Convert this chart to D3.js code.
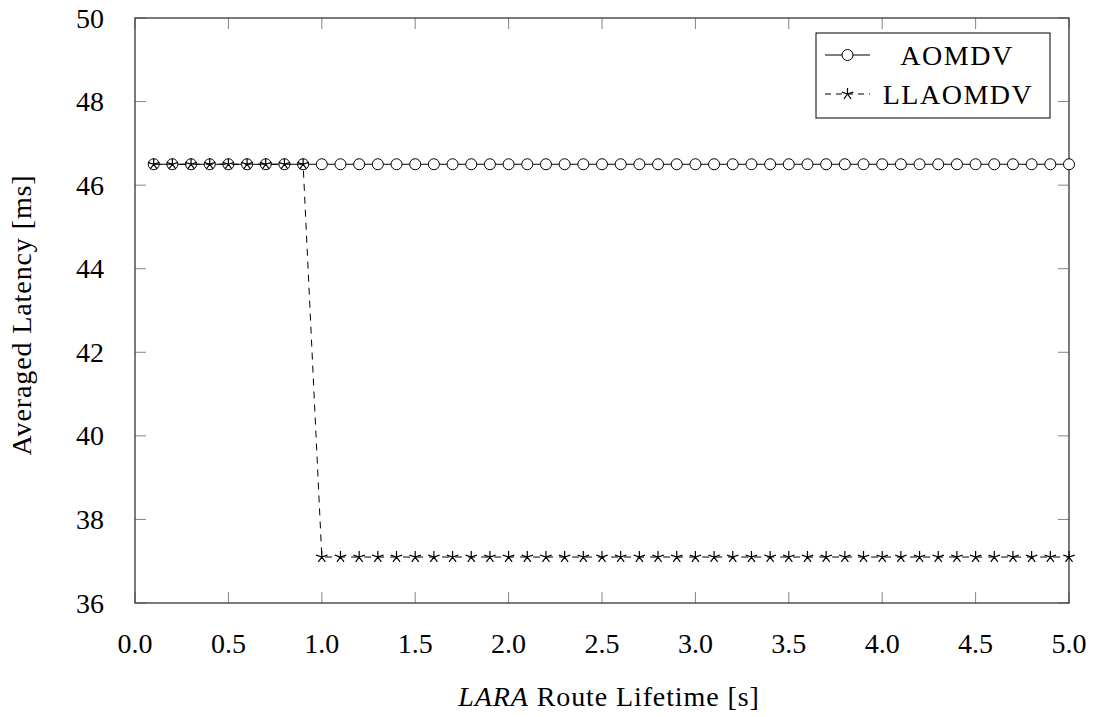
<!DOCTYPE html>
<html>
<head>
    <script src="https://d3js.org/d3.v7.min.js"></script>
    <style>
        body { margin: 0; background: #fff; }
    </style>
</head>
<body>
    <svg width="1095" height="717" font-family="'Liberation Serif', 'Times New Roman', serif"></svg>
    <script>
        // data
        var lifetimes = [0.1, 0.2, 0.3, 0.4, 0.5, 0.6, 0.7, 0.8, 0.9, 1.0,
                         1.1, 1.2, 1.3, 1.4, 1.5, 1.6, 1.7, 1.8, 1.9, 2.0,
                         2.1, 2.2, 2.3, 2.4, 2.5, 2.6, 2.7, 2.8, 2.9, 3.0,
                         3.1, 3.2, 3.3, 3.4, 3.5, 3.6, 3.7, 3.8, 3.9, 4.0,
                         4.1, 4.2, 4.3, 4.4, 4.5, 4.6, 4.7, 4.8, 4.9, 5.0];
        var aomdv = [46.5, 46.5, 46.5, 46.5, 46.5, 46.5, 46.5, 46.5, 46.5, 46.5,
                     46.5, 46.5, 46.5, 46.5, 46.5, 46.5, 46.5, 46.5, 46.5, 46.5,
                     46.5, 46.5, 46.5, 46.5, 46.5, 46.5, 46.5, 46.5, 46.5, 46.5,
                     46.5, 46.5, 46.5, 46.5, 46.5, 46.5, 46.5, 46.5, 46.5, 46.5,
                     46.5, 46.5, 46.5, 46.5, 46.5, 46.5, 46.5, 46.5, 46.5, 46.5];
        var llaomdv = [46.5, 46.5, 46.5, 46.5, 46.5, 46.5, 46.5, 46.5, 46.5, 37.1,
                       37.1, 37.1, 37.1, 37.1, 37.1, 37.1, 37.1, 37.1, 37.1, 37.1,
                       37.1, 37.1, 37.1, 37.1, 37.1, 37.1, 37.1, 37.1, 37.1, 37.1,
                       37.1, 37.1, 37.1, 37.1, 37.1, 37.1, 37.1, 37.1, 37.1, 37.1,
                       37.1, 37.1, 37.1, 37.1, 37.1, 37.1, 37.1, 37.1, 37.1, 37.1];
        var seriesNames = ["AOMDV", "LLAOMDV"];
        var xTicks = [0.0, 0.5, 1.0, 1.5, 2.0, 2.5, 3.0, 3.5, 4.0, 4.5, 5.0];
        var yTicks = [36, 38, 40, 42, 44, 46, 48, 50];

        var svg = d3.select("svg");
        var pLeft = 135, pRight = 1069, pTop = 18, pBottom = 603;
        var serif = "'Liberation Serif', 'Times New Roman', serif";

        var x = d3.scaleLinear().domain([0, 5]).range([pLeft, pRight]);
        var y = d3.scaleLinear().domain([36, 50]).range([pBottom, pTop]);

        var axisColor = "#666";

        // inward ticks on all four sides
        var g = svg.append("g");
        xTicks.forEach(function(t) {
            g.append("line").attr("x1", x(t)).attr("x2", x(t))
                .attr("y1", pBottom).attr("y2", pBottom - 11)
                .attr("stroke", axisColor).attr("stroke-width", 0.8);
            g.append("line").attr("x1", x(t)).attr("x2", x(t))
                .attr("y1", pTop).attr("y2", pTop + 11)
                .attr("stroke", axisColor).attr("stroke-width", 0.8);
            g.append("text").attr("x", x(t)).attr("y", 653)
                .attr("text-anchor", "middle")
                .style("font-family", serif)
                .style("font-size", "28px").text(t.toFixed(1));
        });
        yTicks.forEach(function(t) {
            g.append("line").attr("x1", pLeft).attr("x2", pLeft + 11)
                .attr("y1", y(t)).attr("y2", y(t))
                .attr("stroke", axisColor).attr("stroke-width", 0.8);
            g.append("line").attr("x1", pRight).attr("x2", pRight - 11)
                .attr("y1", y(t)).attr("y2", y(t))
                .attr("stroke", axisColor).attr("stroke-width", 0.8);
            g.append("text").attr("x", 104).attr("y", y(t) + 9.5)
                .attr("text-anchor", "end")
                .style("font-family", serif)
                .style("font-size", "28px").text(t);
        });

        svg.append("rect").attr("x", pLeft).attr("y", pTop)
            .attr("width", pRight - pLeft).attr("height", pBottom - pTop)
            .attr("fill", "none").attr("stroke", "#444").attr("stroke-width", 1.4);

        // axis titles
        var xt = svg.append("text").attr("x", (pLeft + pRight) / 2 + 7).attr("y", 706)
            .attr("text-anchor", "middle")
            .style("font-family", serif)
            .style("font-size", "28px").style("letter-spacing", "0.9px");
        xt.append("tspan").style("font-style", "italic").text("LARA");
        xt.append("tspan").text(" Route Lifetime [s]");

        svg.append("text")
            .attr("transform", "translate(31," + 315 + ") rotate(-90)")
            .attr("text-anchor", "middle")
            .style("font-family", serif)
            .style("font-size", "28px").style("letter-spacing", "0.9px")
            .text("Averaged Latency [ms]");

        var line = d3.line().x(function(d) { return x(d[0]); }).y(function(d) { return y(d[1]); });
        var ptsA = lifetimes.map(function(v, i) { return [v, aomdv[i]]; });
        var ptsL = lifetimes.map(function(v, i) { return [v, llaomdv[i]]; });

        // star marker: five spokes from the centre
        function starPath(r) {
            var p = "";
            for (var k = 0; k < 5; k++) {
                var a = -Math.PI / 2 + k * 2 * Math.PI / 5;
                p += "M0,0L" + (r * Math.cos(a)).toFixed(2) + "," + (r * Math.sin(a)).toFixed(2);
            }
            return p;
        }

        svg.append("path").datum(ptsA).attr("d", line)
            .attr("fill", "none").attr("stroke", "#000").attr("stroke-width", 1);
        svg.append("g").selectAll("circle").data(ptsA).enter().append("circle")
            .attr("cx", function(d) { return x(d[0]); })
            .attr("cy", function(d) { return y(d[1]); })
            .attr("r", 5.5).attr("fill", "#fff").attr("stroke", "#000").attr("stroke-width", 1);

        svg.append("path").datum(ptsL).attr("d", line)
            .attr("fill", "none").attr("stroke", "#000").attr("stroke-width", 1)
            .attr("stroke-dasharray", "7,6");
        svg.append("g").selectAll("path").data(ptsL).enter().append("path")
            .attr("transform", function(d) { return "translate(" + x(d[0]) + "," + y(d[1]) + ")"; })
            .attr("d", starPath(6)).attr("fill", "none").attr("stroke", "#000").attr("stroke-width", 1.2);

        // legend
        var lg = svg.append("g");
        lg.append("rect").attr("x", 816).attr("y", 33).attr("width", 234).attr("height", 85)
            .attr("fill", "#fff").attr("stroke", "#000").attr("stroke-width", 1);
        var rows = [{ y: 55, dash: null, mark: "circle" }, { y: 94, dash: "6,5", mark: "star" }];
        rows.forEach(function(r, i) {
            lg.append("line").attr("x1", 825).attr("x2", 870).attr("y1", r.y).attr("y2", r.y)
                .attr("stroke", "#000").attr("stroke-width", 1)
                .attr("stroke-dasharray", r.dash);
            if (r.mark === "circle") {
                lg.append("circle").attr("cx", 847.5).attr("cy", r.y).attr("r", 5.5)
                    .attr("fill", "#fff").attr("stroke", "#000");
            } else {
                lg.append("path").attr("transform", "translate(847.5," + r.y + ")")
                    .attr("d", starPath(6)).attr("fill", "none").attr("stroke", "#000").attr("stroke-width", 1.2);
            }
            lg.append("text").attr("x", i === 0 ? 957 : 958).attr("y", r.y + 10)
                .attr("text-anchor", "middle")
                .style("font-family", serif)
                .style("font-size", "28px").style("letter-spacing", "1.5px")
                .text(seriesNames[i]);
        });
    </script>
</body>
</html>
